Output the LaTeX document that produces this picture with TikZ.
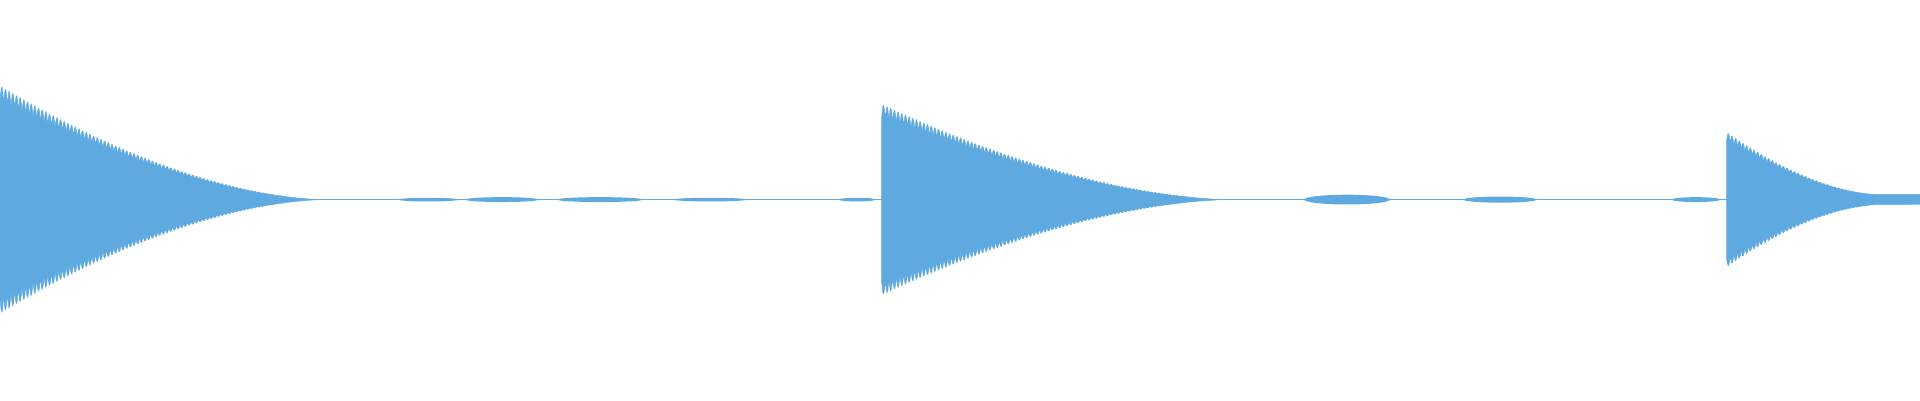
\documentclass[tikz,border=0pt]{standalone}
\definecolor{wave}{RGB}{94,170,224}
\begin{document}
\begin{tikzpicture}[x=1pt,y=-1pt,wf/.style={fill=wave,draw=wave,line width=0.4pt}]
\useasboundingbox (0,0) rectangle (1568,327);
\draw[wave,line width=0.8pt] (0,163) -- (1568,163);
% burst 1
\fill[wf] plot[domain=0:264,samples=500,variable=\t] ({\t},{163-93*(max(1-\t/265,0.01))^1.7*(0.86+0.14*abs(sin(60*mod(\t,6))))})
  -- plot[domain=264:0,samples=500,variable=\t] ({\t},{163+93*(max(1-\t/265,0.01))^1.7*(0.86+0.14*abs(sin(60*mod(\t,6))))}) -- cycle;
% burst 2
\fill[wf] plot[domain=0:284,samples=500,variable=\t] ({720+\t},{163-78*(max(1-\t/285,0.01))^1.7*(0.86+0.14*abs(sin(60*mod(\t,6))))})
  -- plot[domain=284:0,samples=500,variable=\t] ({720+\t},{163+78*(max(1-\t/285,0.01))^1.7*(0.86+0.14*abs(sin(60*mod(\t,6))))}) -- cycle;
% burst 3
\fill[wf] plot[domain=0:124,samples=300,variable=\t] ({1410+\t},{163-4-51*(max(1-\t/125,0.01))^1.7*(0.86+0.14*abs(sin(60*mod(\t,6))))})
  -- (1568,159) -- (1568,167)
  -- plot[domain=124:0,samples=300,variable=\t] ({1410+\t},{163+4+51*(max(1-\t/125,0.01))^1.7*(0.86+0.14*abs(sin(60*mod(\t,6))))}) -- cycle;
% small bumps
\fill[wave] (1100,163) ellipse (35 and 4);
\fill[wave] (1225,163) ellipse (30 and 2.5);
\fill[wave] (350,163) ellipse (25 and 1.5);
\fill[wave] (410,163) ellipse (30 and 2);
\fill[wave] (490,163) ellipse (35 and 2);
\fill[wave] (580,163) ellipse (30 and 1.5);
\fill[wave] (700,163) ellipse (15 and 1.5);
\fill[wave] (1385,163) ellipse (20 and 2);
\end{tikzpicture}
\end{document}
